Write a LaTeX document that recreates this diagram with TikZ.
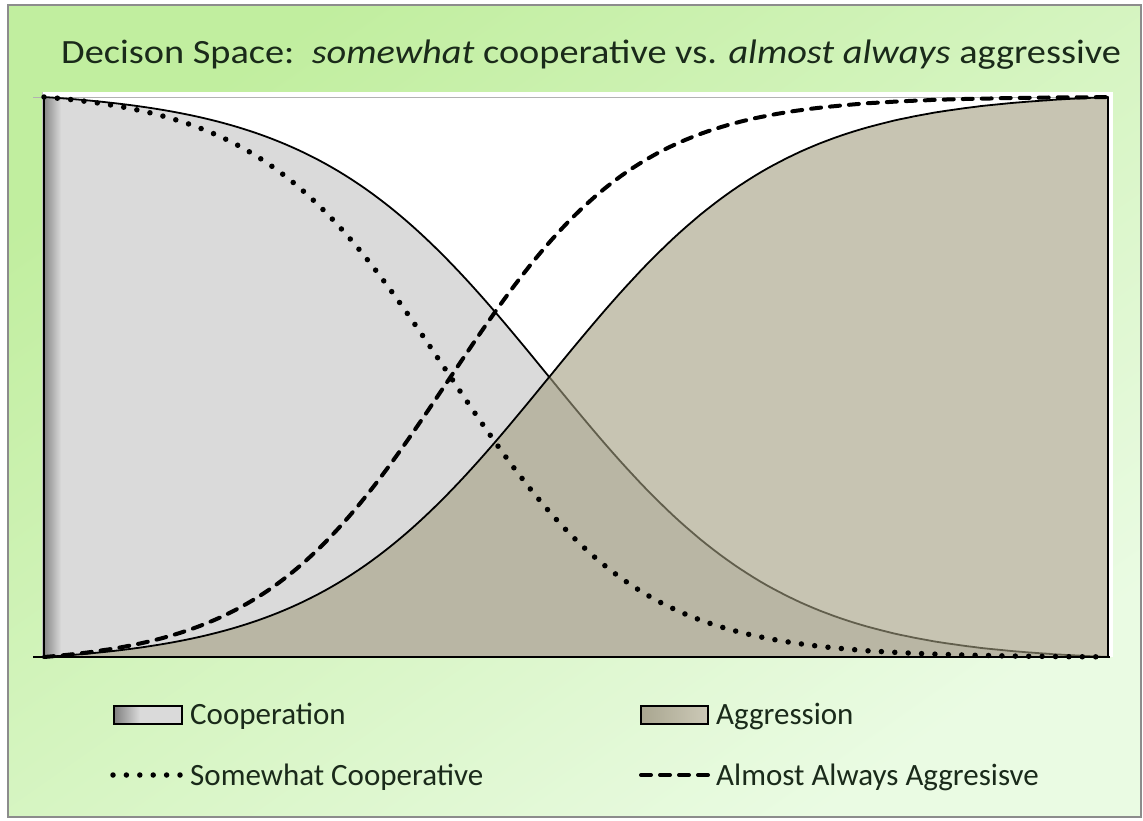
\documentclass[tikz,border=0pt]{standalone}
\usepackage{fontspec}
\setmainfont{Carlito}
\definecolor{bgA}{HTML}{C1EE9F}
\definecolor{bgB}{HTML}{EAFBE3}
\definecolor{frame}{HTML}{8C8C8C}
\definecolor{coopgray}{HTML}{DADADA}
\definecolor{aggolive}{HTML}{A39E80}
\definecolor{aggboxA}{HTML}{A9A690}
\definecolor{aggboxB}{HTML}{CCC9B7}
\definecolor{textc}{HTML}{1A2A1A}
\tikzset{
  declare function={
    agg(\x)=(1/(1+exp(-0.00855*(\x-548)))-0.01326)/0.97848;
    dsh(\x)=(1/(1+exp(-0.0105*(\x-448)))-0.01419)/0.98483;
  },
  curve/.style={line width=1.8pt, line join=round},
  dotline/.style={line width=5.5pt, line cap=round, dash pattern=on 0pt off 13.4pt},
  dashline/.style={line width=4pt, line cap=round, dash pattern=on 10pt off 9pt},
  legendtext/.style={font=\fontsize{31}{37}\selectfont, text=textc, inner sep=0pt, anchor=base west},
}
\begin{document}
\begin{tikzpicture}[x=1pt,y=-1pt]
\useasboundingbox (0,0) rectangle (1143,820);
\fill[white] (0,0) rectangle (1143,820);
\shade[top color=bgA, bottom color=bgB, shading angle=35] (8,5) rectangle (1141,817);
\draw[frame, line width=1.5pt] (8,5) rectangle (1141,817);

% plot area
\fill[white] (42,92) rectangle (1113,657);
\draw[gray!60, line width=0.8pt] (33,97) -- (1108,97);
\draw[gray!50, line width=0.8pt] (42,92) -- (42,657);

% cooperation fill
\fill[coopgray] (44,657) -- plot[domain=44:1108, samples=160] (\x,{97+560*agg(\x)}) -- cycle;
\begin{scope}
  \clip (44,657) -- plot[domain=44:1108, samples=160] (\x,{97+560*agg(\x)}) -- cycle;
  \shade[left color=black!45, right color=coopgray] (45,97) rectangle (61,657);
\end{scope}
\draw[curve] (44,657) -- plot[domain=44:1108, samples=160] (\x,{97+560*agg(\x)});

% aggression fill
\fill[aggolive, fill opacity=0.6] (44,657) -- plot[domain=44:1108, samples=160] (\x,{657-560*agg(\x)}) -- (1108,657) -- cycle;
\draw[curve] plot[domain=44:1108, samples=160] (\x,{657-560*agg(\x)}) -- (1108,657);

% strategy curves
\draw[dotline] plot[domain=44:1108, samples=200] (\x,{97+560*dsh(\x)});
\draw[dashline] plot[domain=44:1108, samples=200] (\x,{657-560*dsh(\x)});

% axis
\draw[line width=2pt] (33,657) -- (1110,657);

% title
\node[font=\fontsize{34}{40}\selectfont, text=textc, inner sep=0pt, anchor=base] (title) at (591,63)
  {\scalebox{1.127}[1]{Decison Space:\ \ \textit{somewhat} cooperative vs. \textit{almost always} aggressive}};

% legend
\fill[coopgray] (114,706) rectangle (182,724);
\shade[left color=black!50, right color=coopgray] (114,706) rectangle (140,724);
\draw[line width=2pt] (114,706) rectangle (182,724);
\node[legendtext] (lcoop) at (190,724) {Cooperation};

\shade[left color=aggboxA, right color=aggboxB] (641,706) rectangle (708,724);
\draw[line width=2pt] (641,706) rectangle (708,724);
\node[legendtext] (lagg) at (716,724) {Aggression};

\coordinate (d1) at (113,775);
\coordinate (d2) at (181,775);
\draw[dotline] (d1) -- (d2);
\node[legendtext] (lsome) at (190,785) {Somewhat Cooperative};

\coordinate (e1) at (641,775);
\coordinate (e2) at (708,775);
\draw[dashline] (e1) -- (e2);
\node[legendtext] (lalmost) at (716,785) {Almost Always Aggresisve};
\end{tikzpicture}
\end{document}
